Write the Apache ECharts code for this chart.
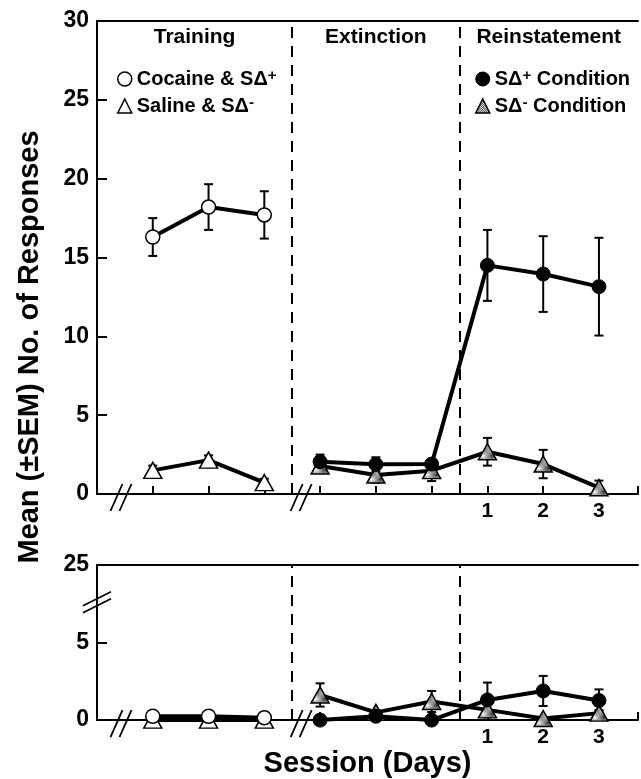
<!DOCTYPE html>
<html>
<head>
<meta charset="utf-8">
<title>Responses by session</title>
<script src="https://cdn.jsdelivr.net/npm/echarts@6.0.0/dist/echarts.min.js"></script>
<style>
  html, body { margin: 0; padding: 0; background: #fff; }
  #chart { width: 641px; height: 779px; }
</style>
</head>
<body>
<div id="chart"></div>
<script>
// x positions: 1-3 training, 4-6 extinction, 7-9 reinstatement
const trainingDays = [1, 2, 3];
const testDays = [4, 5, 6, 7, 8, 9];
const sessionLabels = ['', '', '', '', '', '', '1', '2', '3'];
const phaseNames = ['Training', 'Extinction', 'Reinstatement'];
const phaseBounds = [0, 3.5, 6.5, 9.7];
const axisBreaks = [0.43, 3.66];
const lowerYBreak = 7.6;
const lowerYLabels = ['0', '5', '25'];

// upper panel (means and SEM)
const cocaineTrain = [16.3, 18.2, 17.7];
const cocaineTrainSem = [1.2, 1.45, 1.5];
const salineTrain = [1.5, 2.15, 0.72];
const salineTrainSem = [0.3, 0.3, 0.25];
const plusCond = [2.05, 1.88, 1.9, 14.5, 13.95, 13.15];
const plusCondSem = [0.45, 0.45, 0.3, 2.25, 2.4, 3.1];
const minusCond = [1.78, 1.2, 1.48, 2.68, 1.9, 0.4];
const minusCondSem = [0.3, 0.48, 0.66, 0.88, 0.9, 0.45];

// lower panel
const cocaineTrainLow = [0.25, 0.25, 0.15];
const cocaineTrainLowSem = [0.1, 0.1, 0.35];
const salineTrainLow = [0, 0, 0];
const salineTrainLowSem = [0.05, 0.05, 0.05];
const plusCondLow = [0, 0.25, 0, 1.3, 1.88, 1.26];
const plusCondLowSem = [0.1, 0.1, 0.1, 1.12, 0.97, 0.72];
const minusCondLow = [1.62, 0.5, 1.2, 0.66, 0.1, 0.45];
const minusCondLowSem = [0.75, 0.15, 0.68, 0.3, 0.1, 0.2];

const FONT = "'Liberation Sans', Arial, Helvetica, sans-serif";

// dotted fill for the shaded triangles
const dots = document.createElement('canvas');
dots.width = 2;
dots.height = 2;
const dctx = dots.getContext('2d');
dctx.fillStyle = '#fff';
dctx.fillRect(0, 0, 2, 2);
dctx.fillStyle = '#333';
dctx.fillRect(0, 0, 1, 1);
dctx.fillRect(1, 1, 1, 1);
const shade = { image: dots, repeat: 'repeat' };

const marks = {
  openCircle: { symbol: 'circle', symbolSize: 14, itemStyle: { color: '#fff', borderColor: '#000', borderWidth: 1.5 } },
  openTri: { symbol: 'triangle', symbolSize: [18, 16], itemStyle: { color: '#fff', borderColor: '#000', borderWidth: 1.5 } },
  fillCircle: { symbol: 'circle', symbolSize: 14, itemStyle: { color: '#000', borderColor: '#000', borderWidth: 1 } },
  shadeTri: { symbol: 'triangle', symbolSize: [18, 16], itemStyle: { color: shade, borderColor: '#000', borderWidth: 1.5 } }
};

const names = ['Cocaine & SΔ+', 'Saline & SΔ-', 'SΔ+ Condition', 'SΔ- Condition'];

const pts = (xs, ys) => xs.map((x, i) => [x, ys[i]]);
const errs = (xs, ys, sem) => xs.map((x, i) => [x, ys[i], sem[i]]);

function lineSeries(name, grid, data, mark, extra) {
  return Object.assign({
    name,
    type: 'line',
    xAxisIndex: grid,
    yAxisIndex: grid,
    data,
    symbol: mark.symbol,
    symbolSize: mark.symbolSize,
    showSymbol: true,
    itemStyle: mark.itemStyle,
    lineStyle: { color: '#000', width: 4 },
    clip: false,
    z: 3,
    silent: true,
    animation: false
  }, extra || {});
}

function errorSeries(grid, data) {
  return {
    type: 'custom',
    xAxisIndex: grid,
    yAxisIndex: grid,
    data,
    z: 1,
    silent: true,
    animation: false,
    renderItem: (params, api) => {
      const x = api.value(0), y = api.value(1), e = api.value(2);
      const hi = api.coord([x, y + e]);
      const lo = api.coord([x, y - e]);
      const st = { stroke: '#000', lineWidth: 2 };
      return {
        type: 'group',
        children: [
          { type: 'line', shape: { x1: hi[0], y1: hi[1], x2: lo[0], y2: lo[1] }, style: st },
          { type: 'line', shape: { x1: hi[0] - 4.5, y1: hi[1], x2: hi[0] + 4.5, y2: hi[1] }, style: st },
          { type: 'line', shape: { x1: lo[0] - 4.5, y1: lo[1], x2: lo[0] + 4.5, y2: lo[1] }, style: st }
        ]
      };
    }
  };
}

function xBreakSeries(grid) {
  return {
    type: 'custom',
    xAxisIndex: grid,
    yAxisIndex: grid,
    data: axisBreaks.map(x => [x, 0]),
    z: 5,
    silent: true,
    animation: false,
    renderItem: (params, api) => {
      const p = api.coord([api.value(0), api.value(1)]);
      return {
        type: 'group',
        children: [-4.5, 4.5].map(dx => ({
          type: 'line',
          shape: { x1: p[0] + dx - 6, y1: p[1] + 17, x2: p[0] + dx + 6, y2: p[1] - 10 },
          style: { stroke: '#000', lineWidth: 1.8 }
        }))
      };
    }
  };
}

const yBreakSeries = {
  type: 'custom',
  xAxisIndex: 1,
  yAxisIndex: 1,
  data: [[0, lowerYBreak]],
  z: 5,
  silent: true,
  animation: false,
  renderItem: (params, api) => {
    const p = api.coord([api.value(0), api.value(1)]);
    return {
      type: 'group',
      children: [-3.5, 3.5].map(dy => ({
        type: 'line',
        shape: { x1: p[0] - 14, y1: p[1] + dy + 7, x2: p[0] + 14, y2: p[1] + dy - 7 },
        style: { stroke: '#000', lineWidth: 1.8 }
      }))
    };
  }
};

const phaseLines = {
  symbol: 'none',
  silent: true,
  label: { show: false },
  lineStyle: { type: [11, 8], color: '#000', width: 2 },
  data: [{ xAxis: phaseBounds[1] }, { xAxis: phaseBounds[2] }]
};

const phaseTitles = {
  silent: true,
  itemStyle: { color: 'transparent' },
  label: { position: 'insideTop', distance: 6, color: '#000', fontSize: 21, fontWeight: 'bold', fontFamily: FONT },
  data: phaseNames.map((n, i) => [{ name: n, xAxis: phaseBounds[i] }, { xAxis: phaseBounds[i + 1] }])
};

const axisLine = { show: true, lineStyle: { color: '#000', width: 2 } };
const tickStyle = { color: '#000', width: 2 };
const labelStyle = { color: '#000', fontWeight: 'bold', fontFamily: FONT };

function sessionAxis(grid) {
  return {
    gridIndex: grid,
    type: 'value',
    min: 0,
    max: phaseBounds[3],
    interval: 1,
    axisLine,
    axisTick: { inside: true, length: 8, lineStyle: tickStyle },
    axisLabel: Object.assign({ fontSize: 21, margin: 7, formatter: v => sessionLabels[v - 1] || '' }, labelStyle),
    splitLine: { show: false }
  };
}

function frameAxis(grid) {
  return {
    gridIndex: grid,
    type: 'value',
    position: 'top',
    min: 0,
    max: phaseBounds[3],
    axisLine,
    axisTick: { show: false },
    axisLabel: { show: false },
    splitLine: { show: false }
  };
}

const sup = { sup: { fontSize: 15, fontWeight: 'bold', fontFamily: FONT, color: '#000', verticalAlign: 'top', lineHeight: 14 } };
const supFormat = name => name.replace(/Δ([+-])/, 'Δ{sup|$1}');

function legendBlock(left, items) {
  return {
    left,
    top: 63,
    orient: 'vertical',
    itemWidth: 14,
    itemHeight: 14,
    itemGap: 5,
    itemTextGap: 9,
    selectedMode: false,
    formatter: supFormat,
    textStyle: { fontSize: 20, fontWeight: 'bold', color: '#000', fontFamily: FONT, lineHeight: 22, rich: sup },
    data: items
  };
}

const chart = echarts.init(document.getElementById('chart'));
chart.setOption({
  animation: false,
  backgroundColor: '#fff',
  grid: [
    { left: 97, top: 21, right: 0, height: 473 },
    { left: 97, top: 565, right: 0, height: 157 }
  ],
  legend: [
    legendBlock(112, [
      { name: names[0], icon: 'circle', itemStyle: marks.openCircle.itemStyle },
      { name: names[1], icon: 'triangle', itemStyle: marks.openTri.itemStyle }
    ]),
    legendBlock(470, [
      { name: names[2], icon: 'circle', itemStyle: marks.fillCircle.itemStyle },
      { name: names[3], icon: 'triangle', itemStyle: marks.shadeTri.itemStyle }
    ])
  ],
  xAxis: [
    sessionAxis(0),
    Object.assign(sessionAxis(1), {
      name: 'Session (Days)',
      nameLocation: 'middle',
      nameGap: 28,
      nameTextStyle: { fontSize: 29, fontWeight: 'bold', color: '#000', fontFamily: FONT }
    }),
    frameAxis(0),
    frameAxis(1)
  ],
  yAxis: [
    {
      gridIndex: 0, type: 'value', min: 0, max: 30, interval: 5,
      axisLine,
      axisTick: { inside: true, length: 10, lineStyle: tickStyle },
      axisLabel: Object.assign({ fontSize: 23, margin: 8 }, labelStyle),
      splitLine: { show: false }
    },
    {
      gridIndex: 1, type: 'value', min: 0, max: 10, interval: 5,
      axisLine,
      axisTick: { inside: true, length: 10, lineStyle: tickStyle },
      axisLabel: Object.assign({ fontSize: 23, margin: 8, formatter: v => lowerYLabels[v / 5] }, labelStyle),
      splitLine: { show: false }
    }
  ],
  graphic: [{
    type: 'text',
    x: 30,
    y: 347,
    rotation: Math.PI / 2,
    style: {
      text: 'Mean (±SEM) No. of Responses',
      fontSize: 29,
      fontWeight: 'bold',
      fontFamily: FONT,
      fill: '#000',
      align: 'center',
      verticalAlign: 'middle'
    }
  }],
  series: [
    errorSeries(0, errs(trainingDays, cocaineTrain, cocaineTrainSem)),
    errorSeries(0, errs(trainingDays, salineTrain, salineTrainSem)),
    errorSeries(0, errs(testDays, plusCond, plusCondSem)),
    errorSeries(0, errs(testDays, minusCond, minusCondSem)),
    lineSeries(names[0], 0, pts(trainingDays, cocaineTrain), marks.openCircle, { markArea: phaseTitles }),
    lineSeries(names[1], 0, pts(trainingDays, salineTrain), marks.openTri),
    lineSeries(names[3], 0, pts(testDays, minusCond), marks.shadeTri, { markLine: phaseLines }),
    lineSeries(names[2], 0, pts(testDays, plusCond), marks.fillCircle),

    errorSeries(1, errs(trainingDays, cocaineTrainLow, cocaineTrainLowSem)),
    errorSeries(1, errs(trainingDays, salineTrainLow, salineTrainLowSem)),
    errorSeries(1, errs(testDays, plusCondLow, plusCondLowSem)),
    errorSeries(1, errs(testDays, minusCondLow, minusCondLowSem)),
    lineSeries(names[1], 1, pts(trainingDays, salineTrainLow), marks.openTri),
    lineSeries(names[0], 1, pts(trainingDays, cocaineTrainLow), marks.openCircle),
    lineSeries(names[3], 1, pts(testDays, minusCondLow), marks.shadeTri, { markLine: phaseLines }),
    lineSeries(names[2], 1, pts(testDays, plusCondLow), marks.fillCircle),

    xBreakSeries(0),
    xBreakSeries(1),
    yBreakSeries
  ]
});
</script>
</body>
</html>
